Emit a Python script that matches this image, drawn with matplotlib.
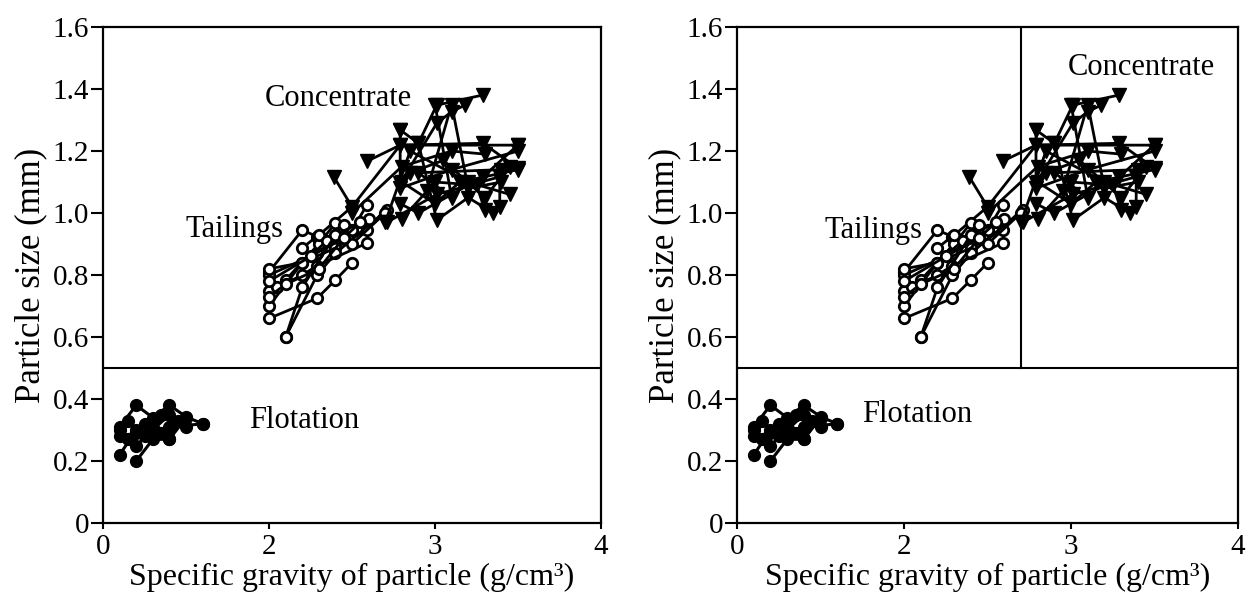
import numpy as np
import matplotlib
matplotlib.use("Agg")
import matplotlib.pyplot as plt

plt.rcParams['font.family'] = ['Liberation Serif', 'DejaVu Serif']

# ---- data (specific gravity, particle size) ----
tail_x = [[2.0, 2.2, 2.29, 2.5], [2.0, 2.29, 2.5, 2.59], [2.0, 2.1, 2.3, 2.4],
          [2.0, 2.2, 2.4, 2.59], [2.0, 2.29, 2.4, 2.5], [2.1, 2.29, 2.4, 2.71],
          [2.05, 2.2, 2.29, 2.59], [2.2, 2.3, 2.5, 2.7], [2.0, 2.2, 2.35, 2.45],
          [2.0, 2.1, 2.3, 2.45], [2.1, 2.2, 2.4, 2.6], [2.0, 2.25, 2.45, 2.55]]
tail_y = [[0.81, 0.945, 0.924, 1.02], [0.80, 0.87, 0.945, 1.026], [0.75, 0.784, 0.90, 0.968],
          [0.70, 0.84, 0.887, 0.945], [0.66, 0.725, 0.784, 0.839], [0.60, 0.80, 0.87, 1.01],
          [0.76, 0.80, 0.83, 0.903], [0.887, 0.93, 0.90, 1.0], [0.82, 0.84, 0.91, 0.96],
          [0.73, 0.77, 0.82, 0.92], [0.60, 0.76, 0.93, 0.98], [0.78, 0.86, 0.92, 0.97]]

conc_x = [[2.79, 2.9, 3.01, 3.29], [2.39, 2.5, 2.79, 3.5], [2.59, 2.79, 3.29, 3.5],
          [2.79, 3.01, 3.1, 3.18], [2.79, 2.9, 3.29, 3.5], [2.71, 3.01, 3.39, 3.39],
          [2.9, 3.01, 3.2, 3.35], [2.79, 2.79, 3.1, 3.5], [2.8, 3.0, 3.25, 3.3],
          [3.0, 3.1, 2.9, 3.4], [2.5, 2.8, 3.1, 3.3], [2.7, 2.85, 3.2, 3.45],
          [2.8, 3.0, 3.15, 3.5], [2.85, 3.05, 3.3, 3.45], [2.95, 3.1, 3.2, 3.4]]
conc_y = [[1.268, 1.225, 1.348, 1.381], [1.117, 1.02, 1.219, 1.219], [1.167, 1.219, 1.225, 1.144],
          [1.096, 1.289, 1.327, 1.348], [1.03, 1.0, 1.117, 1.22], [0.97, 1.06, 1.117, 1.02],
          [1.225, 0.977, 1.05, 1.0], [1.268, 1.08, 1.14, 1.2], [0.98, 1.1, 1.09, 1.01],
          [1.35, 1.05, 1.13, 1.14], [1.0, 1.15, 1.2, 1.19], [0.97, 1.2, 1.1, 1.06],
          [1.1, 1.03, 1.1, 1.14], [1.13, 1.17, 1.05, 1.15], [1.07, 1.35, 1.08, 1.1]]

flot_x = [[0.2, 0.4, 0.6, 0.8, 1.0, 1.2], [0.2, 0.4, 0.6, 0.8, 1.2], [0.2, 0.4, 0.6, 0.8],
          [0.4, 0.6, 0.8, 1.0], [0.2, 0.4, 0.6, 0.8], [0.3, 0.5, 0.7, 0.9],
          [0.3, 0.5, 0.7, 1.0]]
flot_y = [[0.31, 0.38, 0.34, 0.38, 0.343, 0.32], [0.28, 0.29, 0.29, 0.31, 0.32],
          [0.22, 0.30, 0.33, 0.27], [0.20, 0.27, 0.27, 0.34], [0.30, 0.25, 0.30, 0.35],
          [0.27, 0.32, 0.29, 0.33], [0.33, 0.28, 0.35, 0.31]]

x_ticks = [0, 2, 3, 4]
y_ticks = [0, 0.2, 0.4, 0.6, 0.8, 1.0, 1.2, 1.4, 1.6]
y_labels = ["0", "0.2", "0.4", "0.6", "0.8", "1.0", "1.2", "1.4", "1.6"]
split_y = 0.5
split_x = 2.7


# broken x axis: 0-2 squeezed into the same length as 2-3
def fwd(x):
    x = np.asarray(x, dtype=float)
    return np.where(x <= 2, x / 2.0, x - 1.0)


def inv(u):
    u = np.asarray(u, dtype=float)
    return np.where(u <= 1, u * 2.0, u + 1.0)


def draw_panel(ax, labels, vline=False):
    for xs, ys in zip(tail_x, tail_y):
        ax.plot(xs, ys, '-o', color='black', lw=2.0, ms=7.5,
                mfc='white', mec='black', mew=2.0, zorder=3)
    for xs, ys in zip(conc_x, conc_y):
        ax.plot(xs, ys, '-v', color='black', lw=2.0, ms=10.5, zorder=3)
    for xs, ys in zip(flot_x, flot_y):
        ax.plot(xs, ys, '-o', color='black', lw=2.2, ms=8.5, zorder=3)

    ax.axhline(split_y, color='black', lw=1.5)
    if vline:
        ax.plot([split_x, split_x], [split_y, 1.6], color='black', lw=1.5)

    for txt, x, y in labels:
        ax.text(x, y, txt, fontsize=22, ha='left', va='center')

    ax.set_xscale('function', functions=(fwd, inv))
    ax.set_xlim(0, 4)
    ax.set_ylim(0, 1.6)
    ax.set_xticks(x_ticks)
    ax.set_xticklabels([str(t) for t in x_ticks])
    ax.set_yticks(y_ticks)
    ax.set_yticklabels(y_labels)
    ax.minorticks_off()
    ax.tick_params(axis='y', direction='out', length=9, width=1.5, labelsize=21, pad=1)
    ax.tick_params(axis='x', direction='out', length=4, width=1.5, labelsize=21, pad=4)
    for s in ax.spines.values():
        s.set_linewidth(1.6)
    ax.set_xlabel("Specific gravity of particle (g/cm³)", fontsize=23, labelpad=2)
    ax.set_ylabel("Particle size (mm)", fontsize=25, labelpad=4)


fig = plt.figure(figsize=(12.55, 6.09), dpi=100)
ax1 = fig.add_axes([0.0821, 0.1412, 0.3968, 0.8144])
ax2 = fig.add_axes([0.5873, 0.1412, 0.3992, 0.8144])

draw_panel(ax1, [("Concentrate", 1.95, 1.37), ("Tailings", 0.99, 0.948),
                 ("Flotation", 1.76, 0.33)])
draw_panel(ax2, [("Concentrate", 2.98, 1.47), ("Tailings", 1.05, 0.945),
                 ("Flotation", 1.5, 0.35)], vline=True)

fig.savefig("out.png", dpi=100)
